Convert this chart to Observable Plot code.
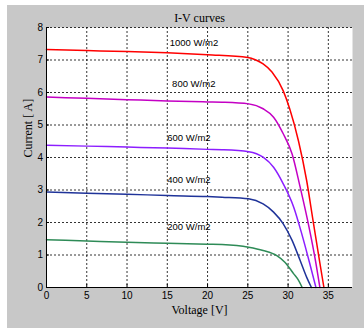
<!DOCTYPE html>
<html>
<head>
<meta charset="utf-8">
<script src="https://cdn.jsdelivr.net/npm/d3@7"></script>
<script src="https://cdn.jsdelivr.net/npm/@observablehq/plot@0.6"></script>
<style>
  html, body { margin: 0; padding: 0; background: #ffffff; }
  #wrap { position: relative; width: 364px; height: 329px; overflow: hidden; }
  #bg { position: absolute; left: 7px; top: 5px; width: 357px; height: 323px; background: #c8c8c8; }
  #chart { position: absolute; left: 0; top: 0; }
  #chart svg { background: transparent !important; }
</style>
</head>
<body>
<div id="wrap"><div id="bg"></div><div id="chart"></div></div>
<script>
// Irradiance series
const series = ["1000 W/m2", "800 W/m2", "600 W/m2", "400 W/m2", "200 W/m2"];
const colors = ["#ff0000", "#c400c4", "#8c1eff", "#1f3399", "#2e8b57"];

// Voltage [V] and Current [A] points
const v1000 = [0, 5, 10, 15, 20, 25, 26, 26.9, 28, 29.4, 30.2, 31.3, 32.3, 33.1, 33.9, 34.45];
const i1000 = [7.32, 7.29, 7.26, 7.22, 7.16, 7.08, 7.0, 6.88, 6.63, 6.05, 5.5, 4.5, 3.3, 2.06, 0.83, 0];

const v800 = [0, 5, 10, 15, 20, 21.8, 25.1, 26.9, 28.2, 29.4, 30.5, 31.5, 32.6, 33.4, 33.95];
const i800 = [5.86, 5.82, 5.78, 5.74, 5.71, 5.70, 5.65, 5.5, 5.24, 4.73, 4.11, 3.09, 1.86, 0.83, 0];

const v600 = [0, 5, 10, 15, 20, 21.8, 25.1, 26.9, 28.2, 29.4, 30.7, 31.7, 32.7, 33.46];
const i600 = [4.38, 4.35, 4.32, 4.29, 4.25, 4.24, 4.18, 4.01, 3.70, 3.19, 2.47, 1.65, 0.73, 0];

const v400 = [0, 5, 10, 15, 20, 21.8, 25.1, 26.9, 28.2, 29.4, 30.5, 31.5, 32.3, 32.9];
const i400 = [2.94, 2.90, 2.87, 2.83, 2.80, 2.78, 2.73, 2.57, 2.32, 1.96, 1.45, 0.83, 0.32, 0];

const v200 = [0, 5, 10, 15, 20, 21.8, 25.1, 26.9, 28.6, 29.6, 30.7, 31.3, 31.75];
const i200 = [1.47, 1.43, 1.39, 1.36, 1.33, 1.32, 1.24, 1.14, 0.98, 0.78, 0.42, 0.22, 0];

// Label positions (voltage, current) for each irradiance annotation
const labelV = [15.3, 15.6, 15.0, 15.0, 15.0];
const labelI = [7.52, 6.25, 4.59, 3.32, 1.86];

const xTicks = [0, 5, 10, 15, 20, 25, 30, 35];
const yTicks = [0, 1, 2, 3, 4, 5, 6, 7, 8];

const vs = [v1000, v800, v600, v400, v200];
const is = [i1000, i800, i600, i400, i200];
const data = [];
series.forEach((s, k) => vs[k].forEach((v, j) => data.push({series: s, V: v, I: is[k][j]})));
const labels = series.map((s, k) => ({series: s, V: labelV[k], I: labelI[k]}));

const sans = "'Liberation Sans', Arial, sans-serif";
const serif = "'Liberation Serif', 'Times New Roman', serif";

const chart = Plot.plot({
  width: 364,
  height: 329,
  marginLeft: 46,
  marginRight: 12,
  marginTop: 27,
  marginBottom: 42,
  style: {background: "transparent", fontFamily: sans, fontSize: "10px", color: "#000"},
  x: {domain: [0, 38], ticks: xTicks},
  y: {domain: [0, 8], ticks: yTicks},
  color: {domain: series, range: colors},
  marks: [
    Plot.frame({fill: "white", stroke: null}),
    Plot.gridX(xTicks, {stroke: "#000", strokeOpacity: 1, strokeDasharray: "2,2", strokeWidth: 0.8}),
    Plot.gridY(yTicks, {stroke: "#000", strokeOpacity: 1, strokeDasharray: "2,2", strokeWidth: 0.8}),
    Plot.line(data, {x: "V", y: "I", z: "series", stroke: "series", strokeWidth: 1.5, curve: "monotone-x"}),
    Plot.text(labels, {x: "V", y: "I", text: "series", textAnchor: "start", fontSize: 9.5, fontFamily: sans, fill: "#000"}),
    Plot.ruleX([0], {stroke: "#000", strokeWidth: 1}),
    Plot.ruleY([0], {stroke: "#000", strokeWidth: 1}),
    Plot.axisX(xTicks, {tickSize: -3, tickPadding: 7, fontSize: 10, fontFamily: sans, label: null}),
    Plot.axisY(yTicks, {tickSize: -3, tickPadding: 6.5, fontSize: 10, fontFamily: sans, label: null}),
    Plot.text(["I-V curves"], {frameAnchor: "top", dy: -14, fontSize: 12, fontFamily: serif, fill: "#000"}),
    Plot.text(["Voltage [V]"], {frameAnchor: "bottom", dy: 26, fontSize: 12, fontFamily: serif, fill: "#000"}),
    Plot.text(["Current [ A]"], {frameAnchor: "left", dx: -18, rotate: -90, fontSize: 12, fontFamily: serif, fill: "#000"})
  ]
});
document.getElementById("chart").appendChild(chart);
</script>
</body>
</html>
